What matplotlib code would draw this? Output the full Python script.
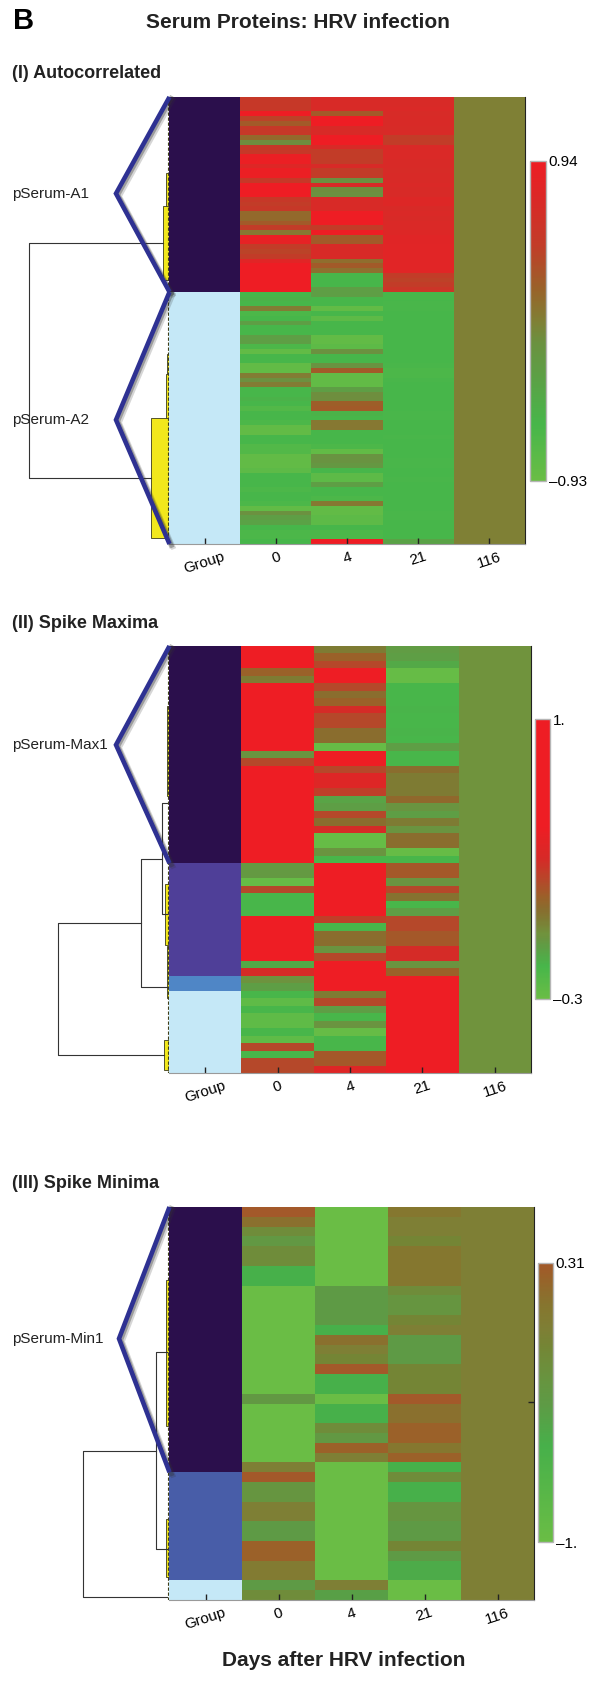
import numpy as np
import matplotlib
matplotlib.use('Agg')
import matplotlib.pyplot as plt
from matplotlib.colors import LinearSegmentedColormap, ListedColormap, Normalize
from matplotlib.patches import Rectangle
from matplotlib.transforms import offset_copy

plt.rcParams['font.family'] = ['Liberation Sans', 'DejaVu Sans']

W, H = 608, 1689

# ---------------- data ----------------
col_labels = ['Group', '0', '4', '21', '116']

# (I) Autocorrelated : 94 proteins, clusters pSerum-A1 (41) / pSerum-A2 (53)
p1_groups = [41, 53]
p1_day0 = [0.5, 0.5, 0.5, 0.94, 0.4, 0.25, 0.5, 0.5, 0.15, -0.1,
           0.5, 0.5, 0.9, 0.9, 0.75, 0.9, 0.9, 0.5, 0.94, 0.94,
           0.94, 0.5, 0.45, 0.5, 0.15, 0.15, 0.25, 0.45, 0.05, 0.9,
           0.85, 0.45, 0.4, 0.45, 0.8, 0.94, 0.94, 0.94, 0.94, 0.94,
           0.94,
           -0.6, -0.55, -0.6, 0.02, -0.65, -0.6, -0.3, -0.6, -0.6, -0.3,
           -0.3, -0.65, -0.85, -0.6, -0.6, -0.85, -0.85, 0.02, -0.12, 0.02,
           -0.6, -0.6, -0.55, -0.6, -0.7, -0.6, -0.6, -0.65, -0.85, -0.85,
           -0.6, -0.6, -0.7, -0.7, -0.85, -0.85, -0.85, -0.8, -0.6, -0.6,
           -0.6, -0.65, -0.6, -0.6, -0.65, -0.85, -0.12, -0.3, -0.35, -0.6,
           -0.65, -0.65, -0.6]
p1_day4 = [0.7, 0.7, 0.7, 0.25, 0.94, 0.94, 0.7, 0.7, 0.94, 0.94,
           0.7, 0.45, 0.45, 0.45, 0.7, 0.45, 0.45, -0.12, 0.7, -0.1,
           -0.12, 0.7, 0.7, 0.7, 0.94, 0.94, 0.94, 0.45, 0.94, 0.25,
           0.25, 0.7, 0.7, 0.7, 0.12, 0.25, 0.1, -0.6, -0.6, -0.6,
           -0.3,
           -0.3, -0.6, -0.6, -0.85, -0.6, -0.8, -0.6, -0.6, -0.6, -0.85,
           -0.85, -0.8, -0.12, -0.6, -0.6, -0.15, 0.25, -0.85, -0.85, -0.85,
           -0.3, -0.1, -0.1, 0.22, 0.25, -0.55, -0.6, 0.05, 0.05, -0.6,
           -0.6, -0.6, -0.65, -0.85, -0.15, -0.15, -0.2, -0.6, -0.8, -0.8,
           -0.3, -0.6, -0.6, -0.65, 0.05, -0.85, -0.85, -0.8, -0.8, -0.6,
           -0.65, -0.65, 0.94]
p1_day21 = [0.7, 0.7, 0.72, 0.68, 0.7, 0.7, 0.68, 0.7, 0.45, 0.45,
            0.72, 0.72, 0.72, 0.7, 0.7, 0.68, 0.7, 0.7, 0.72, 0.7,
            0.7, 0.75, 0.75, 0.7, 0.72, 0.7, 0.72, 0.72, 0.75, 0.78,
            0.78, 0.8, 0.8, 0.8, 0.8, 0.8, 0.8, 0.45, 0.42, 0.45,
            0.55,
            -0.6, -0.6, -0.62, -0.62, -0.6, -0.6, -0.6, -0.6, -0.6, -0.6,
            -0.6, -0.6, -0.6, -0.6, -0.6, -0.62, -0.65, -0.65, -0.62, -0.6,
            -0.6, -0.6, -0.6, -0.6, -0.6, -0.62, -0.62, -0.6, -0.6, -0.6,
            -0.62, -0.6, -0.6, -0.6, -0.6, -0.62, -0.62, -0.6, -0.6, -0.62,
            -0.6, -0.6, -0.6, -0.6, -0.6, -0.6, -0.62, -0.62, -0.6, -0.6,
            -0.6, -0.6, -0.35]
p1_day116 = [0.0] * 94

# (II) Spike Maxima : 57 proteins
p2_groups = [29, 15, 2, 11]
p2_day0 = [1.0, 1.0, 1.0, 0.17, 0.07, 1.0, 1.0, 1.0, 1.0, 1.0,
           1.0, 1.0, 1.0, 1.0, -0.02, 0.25, 1.0, 1.0, 1.0, 1.0,
           1.0, 1.0, 1.0, 1.0, 1.0, 1.0, 1.0, 1.0, 1.0, -0.04,
           -0.04, -0.28, 0.25, -0.15, -0.15, -0.15, 1.0, 1.0, 1.0, 1.0,
           1.0, 1.0, -0.1, 0.35, -0.01, -0.06, -0.15, -0.25, -0.15, -0.25,
           -0.25, -0.15, -0.25, 0.25, -0.15, 0.25, 0.25]
p2_day4 = [0.07, 0.17, 0.25, 1.0, 1.0, 0.25, 0.12, 0.17, 0.35, 0.25,
           0.25, 0.12, 0.12, -0.28, 1.0, 1.0, 0.25, 0.4, 0.4, 0.28,
           -0.08, -0.06, 0.25, 0.12, 0.35, -0.28, -0.28, -0.02, -0.15, 1.0,
           1.0, 1.0, 1.0, 1.0, 1.0, 1.0, 0.28, -0.15, 0.12, 0.12,
           -0.02, 0.25, 1.0, 1.0, 1.0, 1.0, 0.07, 0.25, -0.06, -0.15,
           -0.02, -0.28, -0.15, -0.15, 0.2, 0.2, 0.4]
p2_day21 = [-0.05, -0.06, -0.1, -0.28, -0.28, -0.15, -0.15, -0.15, -0.14, -0.15,
            -0.15, -0.14, -0.15, -0.06, -0.15, -0.15, 0.12, 0.07, 0.07, 0.07,
            0.14, -0.02, -0.06, 0.07, -0.02, 0.12, 0.12, -0.28, -0.15, 0.2,
            0.2, -0.02, 0.25, 0.1, -0.15, -0.06, 0.25, 0.25, 0.2, 0.2,
            0.35, 0.35, -0.02, 0.17, 0.8, 1.0, 1.0, 1.0, 1.0, 1.0,
            1.0, 1.0, 1.0, 1.0, 1.0, 1.0, 1.0]
p2_day116 = [0.0] * 57

# (III) Spike Minima : 40 proteins
p3_groups = [27, 11, 2]
p3_day0 = [0.31, 0.15, -0.15, -0.3, -0.15, -0.15, -0.55, -0.55, -1.0, -1.0,
           -1.0, -1.0, -1.0, -1.0, -1.0, -1.0, -1.0, -1.0, -1.0, -0.3,
           -1.0, -1.0, -1.0, -1.0, -1.0, -1.0, 0.0, 0.31, -0.25, -0.25,
           0.0, 0.0, -0.35, -0.35, 0.25, 0.25, 0.05, 0.05, -0.35, -0.15]
p3_day4 = [-1.0, -1.0, -1.0, -1.0, -1.0, -1.0, -1.0, -1.0, -0.35, -0.35,
           -0.35, -0.35, -0.55, 0.15, 0.0, -0.08, 0.31, -0.55, -0.55, -1.0,
           -0.55, -0.55, -0.15, -0.3, 0.25, 0.0, -1.0, -1.0, -1.0, -1.0,
           -1.0, -1.0, -1.0, -1.0, -1.0, -1.0, -1.0, -1.0, 0.0, -0.4]
p3_day21 = [0.1, 0.0, 0.0, -0.08, 0.1, 0.1, 0.1, 0.1, -0.15, -0.25,
            -0.25, -0.08, 0.0, -0.35, -0.35, -0.35, -0.08, -0.08, -0.08, 0.31,
            0.15, 0.15, 0.25, 0.25, 0.1, 0.25, -0.55, -0.15, -0.55, -0.55,
            -0.25, -0.25, -0.35, -0.35, -0.08, -0.35, -0.5, -0.5, -1.0, -1.0]
p3_day116 = [0.0] * 40

# dendrogram links: (height, row_top, row_bottom, child_height_top, child_height_bottom)
p1_links = [(140, 30.6, 80.1, 6, 18)]
p2_links = [(111, 37.0, 54.6, 28, 5), (28, 28.4, 45.5, 7, 1), (7, 21.0, 35.8, 2, 2)]
p3_links = [(86, 24.8, 39.7, 13, 2), (13, 14.75, 34.8, 2, 2)]
# highlighted low-level subtrees: (height, row_top, row_bottom)
p1_sub = [(3, 16, 30), (6, 23, 38.4), (2, 54, 76), (3, 58.3, 76.7), (18, 67.5, 92.7)]
p2_sub = [(2, 8, 20), (4, 31.8, 39.9), (2, 40, 47), (5, 52.6, 56.6)]
p3_sub = [(3, 7.4, 22.3), (3, 31.8, 37.7)]
# named clusters: (name, first row, last row, label row, bracket depth)
p1_clusters = [('pSerum-A1', 0, 41, 20.3, 53), ('pSerum-A2', 41, 94, 67.9, 53)]
p2_clusters = [('pSerum-Max1', 0, 29, 13.2, 53)]
p3_clusters = [('pSerum-Min1', 0, 27, 13.4, 50)]

p1_anchors = [(-0.93, '#6abd45'), (-0.6, '#47b64a'), (-0.3, '#5e9e45'), (-0.12, '#6b9140'),
              (0.0, '#7f8035'), (0.2, '#9a6129'), (0.45, '#c23c28'), (0.7, '#d82a27'),
              (0.94, '#ee1d24')]
p2_anchors = [(-0.3, '#6abd45'), (-0.15, '#47b64a'), (-0.06, '#5e9e45'), (-0.02, '#6a9440'),
              (0.0, '#70933d'), (0.07, '#7f7a33'), (0.12, '#8a6c2e'), (0.17, '#9a6129'),
              (0.25, '#b5482a'), (0.35, '#d62a27'), (0.5, '#ee1d24'), (1.0, '#ee1d24')]
p3_anchors = [(-1.0, '#6abd45'), (-0.55, '#47b04a'), (-0.35, '#5e9a45'), (-0.25, '#669540'),
              (-0.15, '#6f8c3a'), (-0.08, '#748535'), (0.0, '#7e7f35'), (0.1, '#85772f'),
              (0.15, '#8a702e'), (0.25, '#9a6129'), (0.31, '#a3592a')]

DARK = '#2b0f4c'
LIGHT = '#c5e8f7'


def px_axes(fig, left, top, right, bottom):
    return fig.add_axes([left / W, 1 - bottom / H, (right - left) / W, (bottom - top) / H])


def make_cmap(anchors, vmin, vmax):
    vals, cols = zip(*anchors)
    fr = np.clip([(v - vmin) / (vmax - vmin) for v in vals], 0, 1)
    fr[0], fr[-1] = 0, 1
    return LinearSegmentedColormap.from_list('m', list(zip(fr, cols)))


def draw_panel(fig, box, cbar_box, cols, group_sizes, group_colors, anchors, vmin, vmax,
               cbar_labels, links, subs, clusters, right_tick=None):
    left, top, right, bottom = box
    data = np.column_stack(cols)
    n = data.shape[0]

    ax = px_axes(fig, left, top, right, bottom)
    cmap = make_cmap(anchors, vmin, vmax)
    mesh = ax.pcolormesh(np.arange(1, 6), np.arange(n + 1), data, cmap=cmap,
                         norm=Normalize(vmin, vmax))
    groups = np.repeat(np.arange(len(group_sizes)), group_sizes)[:, None]
    ax.pcolormesh([0, 1], np.arange(n + 1), groups, cmap=ListedColormap(group_colors),
                  vmin=-0.5, vmax=len(group_colors) - 0.5)
    ax.set_xlim(0, 5)
    ax.set_ylim(n, 0)
    ax.set_xticks(np.arange(5) + 0.5)
    ax.set_xticklabels(col_labels, rotation=18, fontsize=11)
    ax.tick_params(axis='x', direction='in', length=4, width=1, color='#222222', pad=4)
    if right_tick is None:
        ax.set_yticks([])
    else:
        ax.yaxis.set_ticks_position('right')
        ax.set_yticks([right_tick])
        ax.set_yticklabels([])
        ax.tick_params(axis='y', direction='in', length=4, width=1, color='#222222')
    for s in ['top', 'left']:
        ax.spines[s].set_visible(False)
    ax.spines['bottom'].set_color('#9a9a9a')
    ax.spines['right'].set_color('#222222')

    # colour bar (labels given bottom, top)
    cax = px_axes(fig, *cbar_box)
    cb = fig.colorbar(mesh, cax=cax, ticks=[vmin, vmax])
    cb.set_ticklabels(cbar_labels)
    cax.tick_params(length=0, labelsize=11, pad=2)
    cb.outline.set_edgecolor('#b5b5b5')
    cb.outline.set_linewidth(1)

    # dendrogram
    dax = px_axes(fig, 0, top, left, bottom)
    dax.set_xlim(left, 0)
    dax.set_ylim(n, 0)
    dax.axis('off')
    for h, ra, rb, ca, cb_ in links:
        dax.plot([ca, h, h, cb_], [ra, ra, rb, rb], color='#333333', lw=0.8)
    for h, ra, rb in subs:
        dax.add_patch(Rectangle((0, ra), h, rb - ra, facecolor='#f2e81c',
                                edgecolor='#3a3a1a', lw=0.6))
    dax.plot([0.8, 0.8], [0, n], color='#3d3d18', lw=0.8, ls=(0, (3, 1.5)))
    # soft shadow placed to the lower right of each cluster bracket
    shadows = [offset_copy(dax.transData, fig=fig, x=1.2, y=-1.0, units='points'),
               offset_copy(dax.transData, fig=fig, x=2.4, y=-2.0, units='points')]
    for name, ra, rb, mid, depth in clusters:
        xs, ys = [-0.5, depth, -0.5], [ra, mid, rb]
        for tr, a in zip(shadows, [0.35, 0.2]):
            dax.plot(xs, ys, color='#333333', alpha=a, lw=3.6, transform=tr,
                     solid_joinstyle='miter', clip_on=False, zorder=4)
        dax.plot(xs, ys, color='#2e3192', lw=3.3, solid_joinstyle='miter',
                 solid_capstyle='butt', clip_on=False, zorder=5)
        dax.text(157, mid, name, ha='left', va='center', fontsize=11, color='#222222')


fig = plt.figure(figsize=(W / 100, H / 100), dpi=100)

fig.text(13 / W, 1 - 21 / H, 'B', fontsize=21, weight='bold', ha='left', va='center')
fig.text(298 / W, 1 - 23 / H, 'Serum Proteins: HRV infection', fontsize=15,
         weight='bold', ha='center', va='center', color='#222222')
fig.text(12 / W, 1 - 73 / H, '(I) Autocorrelated', fontsize=13, weight='bold',
         ha='left', va='center', color='#222222')
fig.text(12 / W, 1 - 623 / H, '(II) Spike Maxima', fontsize=13, weight='bold',
         ha='left', va='center', color='#222222')
fig.text(12 / W, 1 - 1183 / H, '(III) Spike Minima', fontsize=13, weight='bold',
         ha='left', va='center', color='#222222')
fig.text(344 / W, 1 - 1660 / H, 'Days after HRV infection', fontsize=15, weight='bold',
         ha='center', va='center', color='#222222')

draw_panel(fig, (169, 97, 525, 544), (530, 161, 546, 481),
           [p1_day0, p1_day4, p1_day21, p1_day116], p1_groups, [DARK, LIGHT],
           p1_anchors, -0.93, 0.94, ['\u20130.93', '0.94'], p1_links, p1_sub, p1_clusters)
draw_panel(fig, (169, 646, 531, 1073), (535, 719, 550, 999),
           [p2_day0, p2_day4, p2_day21, p2_day116], p2_groups,
           [DARK, '#4f3f98', '#4f86c6', LIGHT],
           p2_anchors, -0.3, 1.0, ['\u20130.3', '1.'], p2_links, p2_sub, p2_clusters)
draw_panel(fig, (169, 1207, 534, 1600), (538, 1263, 553, 1542),
           [p3_day0, p3_day4, p3_day21, p3_day116], p3_groups,
           [DARK, '#485da8', LIGHT],
           p3_anchors, -1.0, 0.31, ['\u20131.', '0.31'], p3_links, p3_sub, p3_clusters,
           right_tick=19.8)

fig.savefig('out.png', dpi=100)
